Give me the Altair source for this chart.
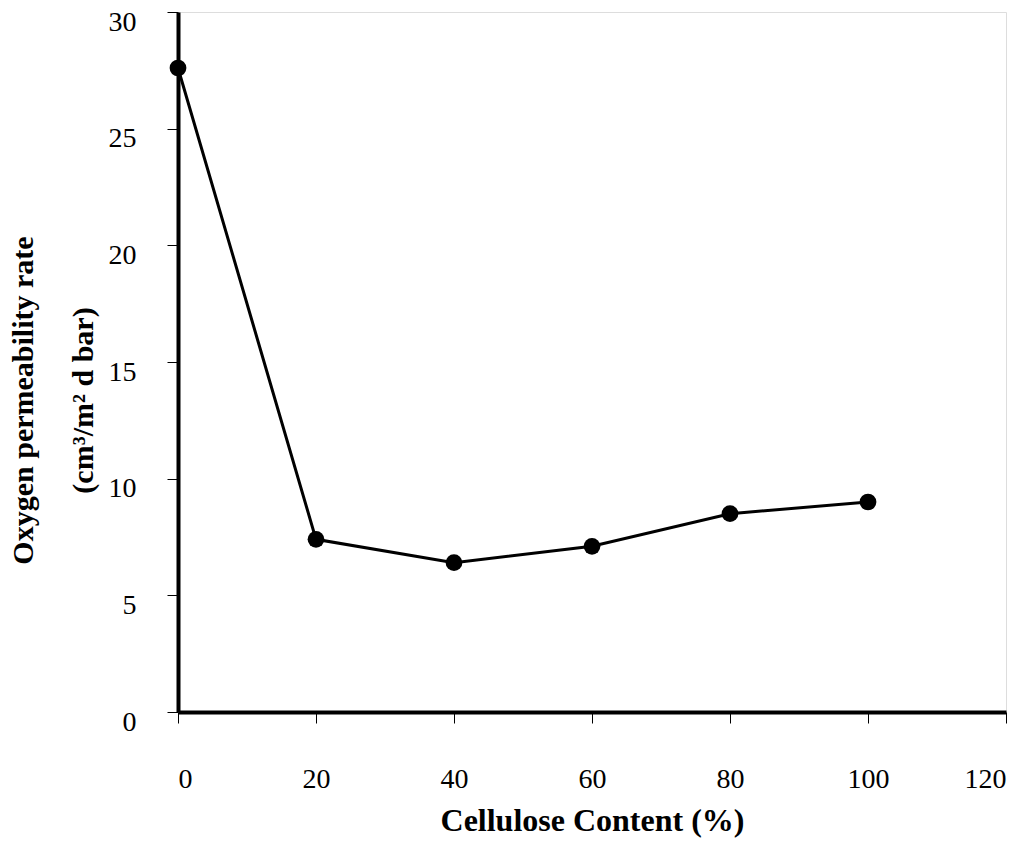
import altair as alt
import pandas as pd

cellulose = [0, 20, 40, 60, 80, 100]
permeability = [27.6, 7.4, 6.4, 7.1, 8.5, 9.0]
x_ticks = [0, 20, 40, 60, 80, 100, 120]
y_ticks = [0, 5, 10, 15, 20, 25, 30]
x_title = "Cellulose Content (%)"
y_title = ["Oxygen permeability rate", "(cm\u00b3/m\u00b2 d bar)"]

df = pd.DataFrame({"cellulose": cellulose, "permeability": permeability})

FONT = "Liberation Serif"

x_enc = alt.X(
    "cellulose:Q",
    scale=alt.Scale(domain=[0, 120], nice=False, zero=False),
    axis=alt.Axis(
        values=x_ticks, title=x_title, grid=False,
        domainColor="black", domainWidth=4,
        tickColor="black", tickWidth=1, tickSize=11,
        labelFont=FONT, labelFontSize=28, labelColor="black", labelPadding=42,
        titleFont=FONT, titleFontSize=32, titleFontWeight="bold", titleColor="black",
        titleBaseline="alphabetic", titleAlign="center", titleX=414, titleY=118,
    ),
)
y_enc = alt.Y(
    "permeability:Q",
    scale=alt.Scale(domain=[0, 30], nice=False),
    axis=alt.Axis(
        values=y_ticks, title=y_title, grid=False,
        domainColor="black", domainWidth=4,
        tickColor="black", tickWidth=1, tickSize=11,
        labelFont=FONT, labelFontSize=28, labelColor="black", labelPadding=31,
        labelBaseline="middle", labelOffset=10,
        titleFont=FONT, titleFontSize=30, titleFontWeight="bold", titleColor="black",
        titleAngle=-90, titleBaseline="alphabetic", titleAlign="center",
        titleX=-146, titleY=388, titleLineHeight=60,
    ),
)

base = alt.Chart(df).encode(x=x_enc, y=y_enc)
line = base.mark_line(color="black", strokeWidth=3)
points = base.mark_point(filled=True, color="black", size=280, opacity=1)

chart = (
    alt.layer(line, points)
    .properties(
        width=828, height=700,
        autosize=alt.AutoSizeParams(type="none"),
        padding={"left": 178, "top": 12, "right": 24, "bottom": 135},
    )
    .configure_view(stroke="black", strokeWidth=3)
    .configure(background="white")
)

chart.save("out.html", embed_options={"renderer": "svg", "actions": False})
